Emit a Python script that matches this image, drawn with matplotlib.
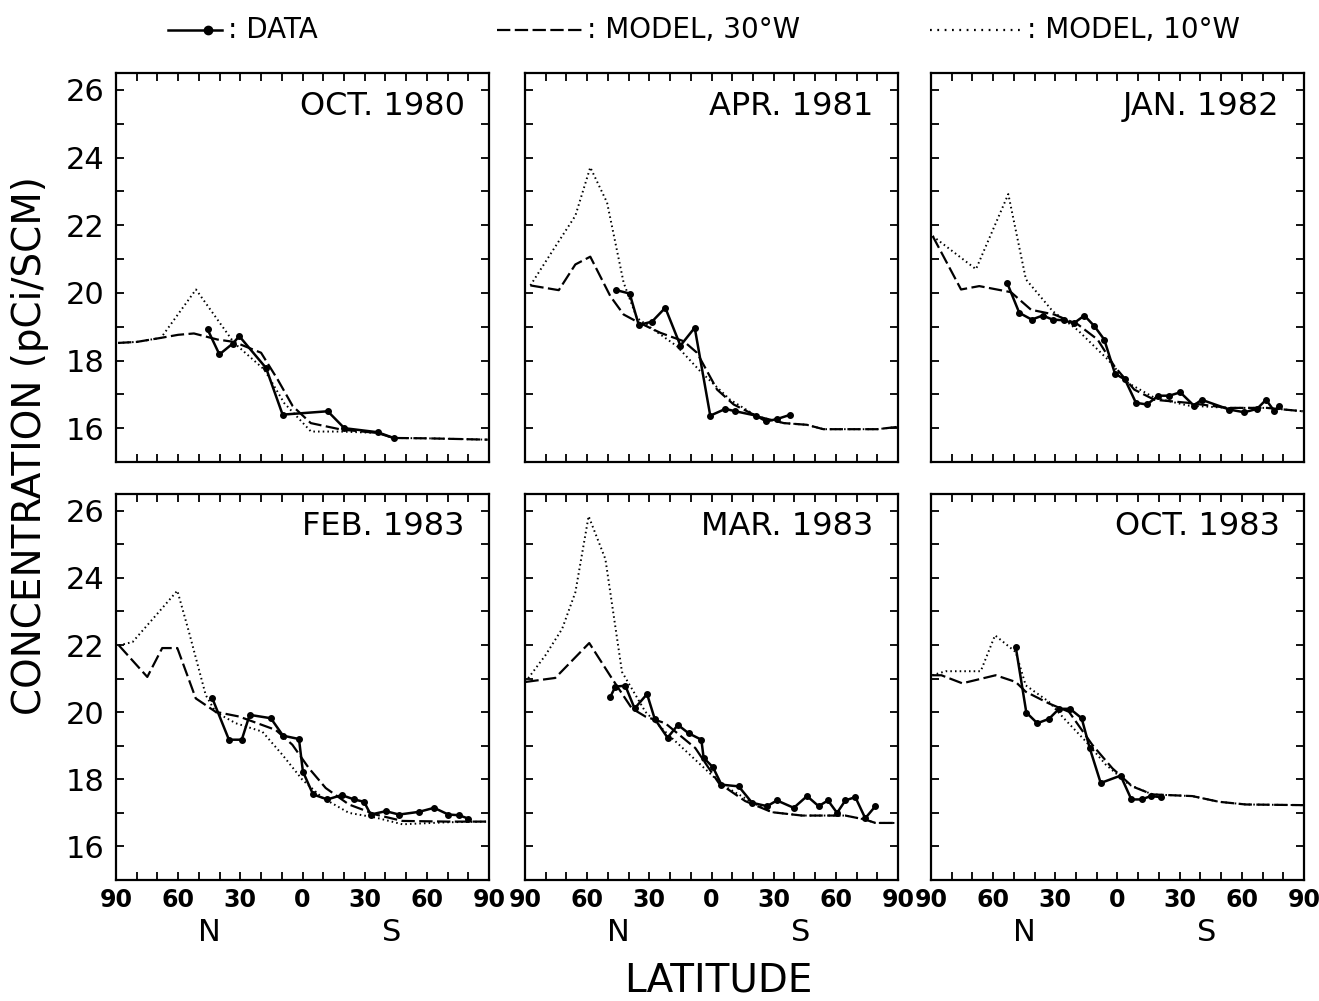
import matplotlib
matplotlib.use("Agg")
import matplotlib.pyplot as plt
from matplotlib.lines import Line2D
from matplotlib.ticker import MultipleLocator, FixedLocator, FixedFormatter
import matplotlib.transforms as mtransforms

# latitude: + is north, - is south
titles = ["OCT. 1980", "APR. 1981", "JAN. 1982", "FEB. 1983", "MAR. 1983", "OCT. 1983"]

# OCT. 1980
oct80_data_lat = [45.8, 40.1, 33.7, 30.5, 17.6, 9.6, -12.2, -20.2, -36.3, -44]
oct80_data_val = [18.92, 18.18, 18.5, 18.72, 17.78, 16.4, 16.5, 16.0, 15.88, 15.71]
oct80_m30_lat = [89, 80, 68.3, 60, 52.4, 41, 33, 20, 12, 4.7, -4, -18.6, -36, -44, -60, -75, -89.4]
oct80_m30_val = [18.52, 18.55, 18.67, 18.76, 18.8, 18.62, 18.55, 18.23, 17.44, 16.65, 16.15, 15.96, 15.86, 15.71, 15.7, 15.68, 15.66]
oct80_m10_lat = [89, 80, 68.3, 51.4, 33, 18.4, 8.8, -4.1, -18.6, -36, -44, -60, -75, -89.4]
oct80_m10_val = [18.52, 18.55, 18.67, 20.1, 18.52, 17.73, 16.74, 15.9, 15.9, 15.86, 15.71, 15.7, 15.68, 15.66]

# APR. 1981
apr81_data_lat = [45.9, 39.5, 35.1, 28.7, 22.3, 15, 8.1, 0.6, -6.7, -11.5, -21.6, -26.4, -31.6, -37.7]
apr81_data_val = [20.08, 19.98, 19.05, 19.15, 19.56, 18.44, 18.97, 16.37, 16.57, 16.5, 16.37, 16.2, 16.27, 16.39]
apr81_m30_lat = [87.4, 73.7, 65.7, 58.5, 48.8, 42.4, 36, 24.7, 13.4, 7, -2.7, -10.7, -22, -34.9, -46, -54, -80, -90]
apr81_m30_val = [20.22, 20.08, 20.84, 21.07, 19.9, 19.36, 19.15, 18.82, 18.57, 18.23, 17.14, 16.7, 16.35, 16.15, 16.1, 15.97, 15.97, 16.04]
apr81_m10_lat = [87.4, 76.2, 65.7, 58.5, 50.4, 42.4, 36, 16.6, 5.4, -9, -22, -34.9, -46, -54, -80, -90]
apr81_m10_val = [20.22, 21.29, 22.28, 23.71, 22.67, 20.3, 19.26, 18.42, 17.68, 16.84, 16.35, 16.15, 16.1, 15.97, 15.97, 16.04]

# JAN. 1982
jan82_data_lat = [53.3, 47.4, 41.4, 36.1, 31.3, 26, 21.1, 16, 11.2, 6.4, 1.2, -3.6, -8.9, -14.2, -19.7,
                  -25, -30.3, -36.8, -40.6, -54, -61.2, -67.3, -71.7, -75.7, -78.1]
jan82_data_val = [20.3, 19.41, 19.21, 19.33, 19.21, 19.19, 19.1, 19.33, 19.02, 18.62, 17.61, 17.44, 16.75, 16.7, 16.96,
                  16.96, 17.06, 16.67, 16.84, 16.55, 16.47, 16.57, 16.84, 16.5, 16.67]
jan82_m30_lat = [89.2, 75.5, 66.7, 51.4, 41.7, 30.5, 19.2, 9.6, 1.5, -8.1, -17.8, -33.9, -53.2, -72, -89.4]
jan82_m30_val = [21.68, 20.1, 20.2, 20.02, 19.5, 19.36, 19.07, 18.62, 17.83, 17.14, 16.84, 16.75, 16.6, 16.6, 16.5]
jan82_m10_lat = [89.2, 68.3, 52.7, 44.2, 31.3, 19.2, 4.7, -5, -17.8, -33.9, -53.2, -72, -89.4]
jan82_m10_val = [21.68, 20.7, 22.92, 20.4, 19.46, 18.9, 18.03, 17.34, 16.9, 16.67, 16.6, 16.6, 16.5]

# FEB. 1983
feb83_data_lat = [43.5, 35.5, 29.3, 25.5, 15.3, 9.4, 1.7, -0.2, -5.1, -12, -18.9, -24.9, -29.7, -32.9,
                  -40.2, -46.6, -56.2, -63.5, -70.4, -75.5, -80]
feb83_data_val = [20.41, 19.18, 19.18, 19.92, 19.82, 19.3, 19.2, 18.23, 17.55, 17.4, 17.53, 17.4, 17.33, 16.95,
                  17.05, 16.95, 17.03, 17.15, 16.95, 16.93, 16.83]
feb83_m30_lat = [88.6, 74.9, 67.7, 60.4, 51.5, 41.9, 30.6, 12.9, 4.9, -3.1, -11.2, -22.4, -35.3, -48.2, -70, -90]
feb83_m30_val = [21.99, 21.05, 21.91, 21.91, 20.41, 20.01, 19.87, 19.47, 19.03, 18.33, 17.74, 17.25, 16.95, 16.76, 16.74, 16.74]
feb83_m10_lat = [88.6, 82, 70.8, 60.4, 54.8, 46.7, 41.9, 32.2, 19.4, 9.7, 0.1, -9.6, -22.4, -35.3, -48.2, -70, -90]
feb83_m10_val = [21.99, 22.09, 22.88, 23.62, 22.39, 20.51, 20.0, 19.67, 19.42, 18.73, 17.99, 17.45, 17.0, 16.86, 16.66, 16.72, 16.74]

# MAR. 1983
mar83_data_lat = [48.8, 46.4, 41.6, 37.1, 31.1, 27.4, 21.2, 16.2, 11, 4.9, 3.8, -0.7, -4.8, -13.1, -19.6,
                  -26.8, -31.6, -39.7, -46.1, -51.7, -56.2, -60.6, -64.6, -69.4, -74.2, -79.1]
mar83_data_val = [20.46, 20.76, 20.79, 20.11, 20.54, 19.8, 19.24, 19.62, 19.37, 19.18, 18.64, 18.36, 17.84, 17.79, 17.3,
                  17.2, 17.37, 17.15, 17.5, 17.2, 17.37, 17.0, 17.37, 17.47, 16.84, 17.2]
mar83_m30_lat = [89.8, 75.4, 59, 48, 38.4, 31.9, 22.3, 7.8, -3.5, -16.3, -29.2, -43.7, -64.6, -74.2, -79.1, -90]
mar83_m30_val = [20.9, 21.02, 22.06, 21.0, 20.11, 19.87, 19.67, 18.93, 17.89, 17.35, 17.02, 16.92, 16.92, 16.8, 16.7, 16.7]
mar83_m10_lat = [89.8, 80.2, 72.1, 65.7, 59.3, 51.2, 43.2, 31.9, 20.7, 7.8, -5.1, -20, -29.2, -43.7, -64.6, -74.2, -79.1, -90]
mar83_m10_val = [20.9, 21.69, 22.48, 23.57, 25.84, 24.56, 21.2, 20.01, 19.32, 18.58, 17.84, 17.3, 17.02, 16.92, 16.92, 16.8, 16.7, 16.7]

# OCT. 1983
oct83_data_lat = [49.1, 44, 38.7, 33.1, 28.2, 22.9, 17.3, 13.4, 8.1, -1.5, -6.7, -11.7, -16, -20.9]
oct83_data_val = [21.94, 19.99, 19.67, 19.8, 20.1, 20.1, 19.82, 18.93, 17.89, 18.11, 17.4, 17.4, 17.5, 17.47]
oct83_m30_lat = [89.4, 85, 74.9, 58.8, 49.1, 44.3, 33.1, 23.4, 12.2, 2.5, -7.1, -16.8, -36.1, -49, -61.9, -90]
oct83_m30_val = [21.1, 21.1, 20.86, 21.1, 20.9, 20.61, 20.26, 20.01, 19.03, 18.33, 17.79, 17.55, 17.5, 17.33, 17.25, 17.23]
oct83_m10_lat = [89.4, 82.9, 66, 59.1, 49.1, 44.3, 33.1, 25.9, 15.3, 5.7, -5.6, -16.8, -36.1, -49, -61.9, -90]
oct83_m10_val = [21.1, 21.22, 21.22, 22.29, 21.79, 20.8, 20.31, 19.82, 19.13, 18.44, 17.84, 17.55, 17.5, 17.33, 17.25, 17.23]

data_lat = [oct80_data_lat, apr81_data_lat, jan82_data_lat, feb83_data_lat, mar83_data_lat, oct83_data_lat]
data_val = [oct80_data_val, apr81_data_val, jan82_data_val, feb83_data_val, mar83_data_val, oct83_data_val]
m30_lat = [oct80_m30_lat, apr81_m30_lat, jan82_m30_lat, feb83_m30_lat, mar83_m30_lat, oct83_m30_lat]
m30_val = [oct80_m30_val, apr81_m30_val, jan82_m30_val, feb83_m30_val, mar83_m30_val, oct83_m30_val]
m10_lat = [oct80_m10_lat, apr81_m10_lat, jan82_m10_lat, feb83_m10_lat, mar83_m10_lat, oct83_m10_lat]
m10_val = [oct80_m10_val, apr81_m10_val, jan82_m10_val, feb83_m10_val, mar83_m10_val, oct83_m10_val]

lat_ticks = [90, 60, 30, 0, -30, -60, -90]
lat_labels = ["90", "60", "30", "0", "30", "60", "90"]
conc_ticks = [16, 18, 20, 22, 24, 26]

plt.rcParams["font.family"] = ["DejaVu Sans"]

W, H = 1319, 1001
fig = plt.figure(figsize=(W / 100, H / 100), dpi=100)

lefts = [116, 525, 931]
rows = [(73, 462), (494, 880)]
pw = 373

dash_style = (6, 2)
dot_style = (0.8, 1.6)

for i in range(6):
    r, c = divmod(i, 3)
    top, bot = rows[r]
    ax = fig.add_axes([lefts[c] / W, 1 - bot / H, pw / W, (bot - top) / H])
    ax.plot(m30_lat[i], m30_val[i], color="black", lw=1.6, dashes=dash_style)
    ax.plot(m10_lat[i], m10_val[i], color="black", lw=1.4, dashes=dot_style)
    ax.plot(data_lat[i], data_val[i], color="black", lw=1.8, marker="o", ms=4)
    ax.set_xlim(90, -90)
    ax.set_ylim(15, 26.5)
    ax.xaxis.set_major_locator(FixedLocator(lat_ticks))
    ax.xaxis.set_major_formatter(FixedFormatter(lat_labels))
    ax.xaxis.set_minor_locator(MultipleLocator(10))
    ax.yaxis.set_major_locator(FixedLocator(conc_ticks))
    ax.yaxis.set_minor_locator(MultipleLocator(1))
    ax.tick_params(which="both", direction="in", top=True, right=True, length=6, width=1.3, color="black")
    ax.tick_params(axis="x", pad=6)
    ax.tick_params(axis="y", pad=8)
    for sp in ax.spines.values():
        sp.set_linewidth(1.6)
    if c == 0:
        for lab in ax.get_yticklabels():
            lab.set_fontsize(22)
    else:
        ax.tick_params(axis="y", labelleft=False)
    if r == 1:
        for lab in ax.get_xticklabels():
            lab.set_fontsize(17)
            lab.set_fontweight("bold")
        tr = mtransforms.blended_transform_factory(ax.transData, ax.transAxes)
        ax.text(45, -0.135, "N", transform=tr, ha="center", va="center", fontsize=22)
        ax.text(-43, -0.135, "S", transform=tr, ha="center", va="center", fontsize=22)
    else:
        ax.tick_params(axis="x", labelbottom=False)
    ax.text(0.935, 0.915, titles[i], transform=ax.transAxes, ha="right", va="center", fontsize=23)

fig.text(30 / W, 1 - 446 / H, "CONCENTRATION (pCi/SCM)", rotation=90, ha="center", va="center", fontsize=28)
fig.text(718 / W, 1 - 980 / H, "LATITUDE", ha="center", va="center", fontsize=28)

# legend along the top
ly = 1 - 30 / H
fig.add_artist(Line2D([168 / W, 222 / W], [ly, ly], color="black", lw=1.8, transform=fig.transFigure))
fig.add_artist(Line2D([208 / W], [ly], color="black", marker="o", ms=6, transform=fig.transFigure))
fig.text(228 / W, ly, ": DATA", ha="left", va="center", fontsize=20)
fig.add_artist(Line2D([497 / W, 585 / W], [ly, ly], color="black", lw=1.6, dashes=dash_style,
                      transform=fig.transFigure))
fig.text(587 / W, ly, ": MODEL, 30°W", ha="left", va="center", fontsize=20)
fig.add_artist(Line2D([930 / W, 1025 / W], [ly, ly], color="black", lw=1.6, dashes=(0.8, 2.5),
                      transform=fig.transFigure))
fig.text(1027 / W, ly, ": MODEL, 10°W", ha="left", va="center", fontsize=20)

fig.savefig("out.png", dpi=100)
